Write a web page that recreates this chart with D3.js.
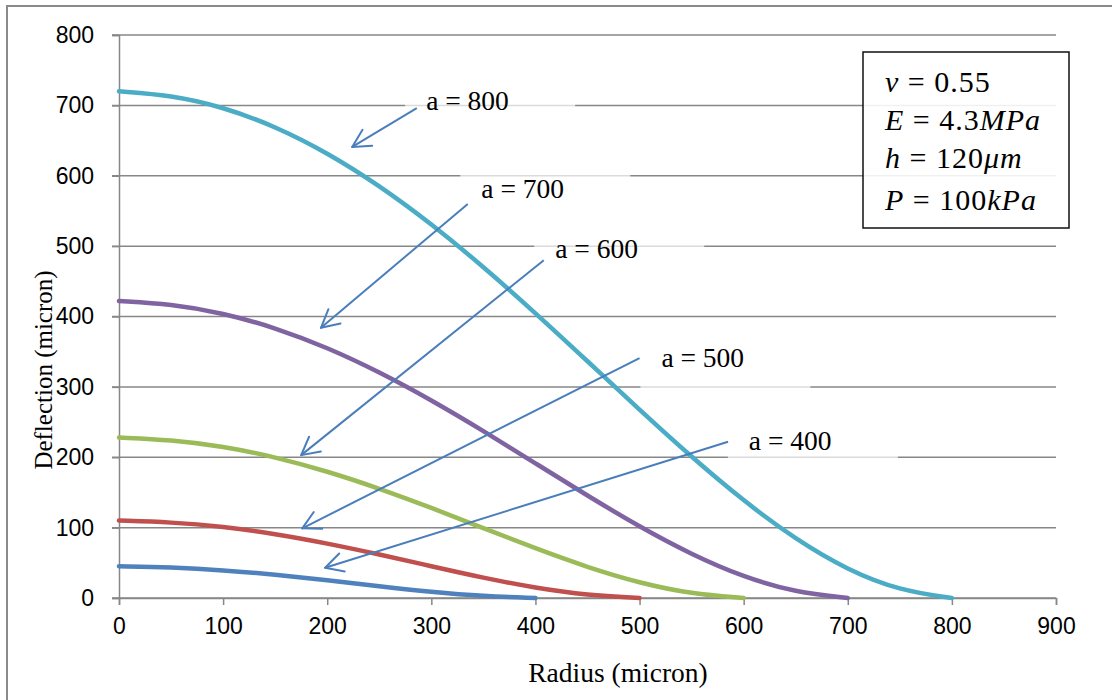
<!DOCTYPE html>
<html>
<head>
<meta charset="utf-8">
<script src="https://cdn.jsdelivr.net/npm/d3@7"></script>
<style>
  html, body { margin: 0; padding: 0; background: #fff; }
  svg { display: block; }
</style>
</head>
<body>
<svg id="chart" width="1112" height="700"></svg>
<script>
// ---------- data ----------
const radius = [0, 50, 100, 150, 200, 250, 300, 350, 400, 450, 500, 550, 600, 650, 700, 750, 800];
const seriesNames = ["a = 400", "a = 500", "a = 600", "a = 700", "a = 800"];
const defl400 = [45, 43.6, 39.6, 33.2, 25.3, 16.7, 8.6, 2.5, 0];
const defl500 = [110, 107.8, 101.4, 91.1, 77.6, 61.9, 45.1, 28.6, 14.3, 4.0, 0];
const defl600 = [228, 224.8, 215.5, 200.4, 180.1, 155.7, 128.3, 99.2, 70.4, 43.6, 21.3, 5.8, 0];
const defl700 = [422, 417.7, 405.0, 384.1, 355.9, 321.2, 281.2, 237.4, 191.4, 145.3, 101.2, 61.8, 29.7, 8.0, 0];
const defl800 = [720, 714.4, 697.7, 670.3, 632.8, 586.2, 531.7, 470.8, 405.0, 336.5, 267.4, 200.2, 137.8, 83.2, 39.6, 10.6, 0];
const xTicks = [0, 100, 200, 300, 400, 500, 600, 700, 800, 900];
const yTicks = [0, 100, 200, 300, 400, 500, 600, 700, 800];
// annotation arrows (data coordinates): label anchor, arrow start, arrow tip
const annLabelX = [605, 521, 419, 348, 295];
const annLabelY = [210, 328, 483, 568, 693];
const annFromX = [585, 500, 408, 335, 286];
const annFromY = [222, 341, 480, 560, 696];
const annToX = [198, 176, 175, 194, 224];
const annToY = [43, 99, 203, 384, 641];
const paramLines = [
  [["v", true], [" = 0.55", false]],
  [["E", true], [" = 4.3", false], ["MPa", true]],
  [["h", true], [" = 120", false], ["μm", true]],
  [["P", true], [" = 100", false], ["kPa", true]]
];

// ---------- layout ----------
const colors = ["#4F81BD", "#C0504D", "#9BBB59", "#8064A2", "#4BACC6"];
const gridColor = "#878787";
const arrowColor = "#4A7EBB";
const svg = d3.select("#chart");

const x = d3.scaleLinear().domain([0, 900]).range([119, 1056]);
const y = d3.scaleLinear().domain([0, 800]).range([598, 35]);

// outer frame
svg.append("rect").attr("x", 7).attr("y", 6).attr("width", 1120).attr("height", 720)
  .attr("fill", "none").attr("stroke", "#8a8a8a").attr("stroke-width", 2);

// gridlines
svg.append("g").selectAll("line").data(yTicks).join("line")
  .attr("x1", 112).attr("x2", x(900))
  .attr("y1", d => y(d)).attr("y2", d => y(d))
  .attr("stroke", gridColor).attr("stroke-width", 1.5);

// y axis
const yAxis = svg.append("g").attr("transform", `translate(${x(0)},0)`)
  .call(d3.axisLeft(y).tickValues(yTicks).tickSize(7).tickPadding(18).tickFormat(d3.format("d")));
yAxis.select(".domain").attr("stroke", gridColor).attr("stroke-width", 1.5);
yAxis.selectAll(".tick line").attr("stroke", gridColor).attr("stroke-width", 1.5);
yAxis.selectAll("text").attr("font-family", "'Liberation Sans', Arial, sans-serif")
  .attr("font-size", 23).attr("fill", "#000");

// x axis
const xAxis = svg.append("g").attr("transform", `translate(0,${y(0)})`)
  .call(d3.axisBottom(x).tickValues(xTicks).tickSize(7).tickPadding(13).tickFormat(d3.format("d")));
xAxis.select(".domain").attr("stroke", gridColor).attr("stroke-width", 1.5);
xAxis.selectAll(".tick line").attr("stroke", gridColor).attr("stroke-width", 1.5);
xAxis.selectAll("text").attr("font-family", "'Liberation Sans', Arial, sans-serif")
  .attr("font-size", 23).attr("fill", "#000");

// axis titles
svg.append("text").attr("x", 618).attr("y", 682).attr("text-anchor", "middle")
  .attr("font-family", "'Liberation Serif', 'Times New Roman', serif").attr("font-size", 27.5)
  .text("Radius (micron)");
svg.append("text").attr("transform", "translate(52,370) rotate(-90)").attr("text-anchor", "middle")
  .attr("font-family", "'Liberation Serif', 'Times New Roman', serif").attr("font-size", 25)
  .text("Deflection (micron)");

// curves
const allDefl = [defl400, defl500, defl600, defl700, defl800];
const line = d3.line().x(d => x(d[0])).y(d => y(d[1])).curve(d3.curveBasis);
svg.append("g").selectAll("path").data(allDefl).join("path")
  .attr("d", vals => line(vals.map((v, i) => [radius[i], v])))
  .attr("fill", "none")
  .attr("stroke", (d, i) => colors[i])
  .attr("stroke-width", 4.5)
  .attr("stroke-linecap", "round");

// annotations
const ann = svg.append("g");
seriesNames.forEach((name, i) => {
  const tx = x(annLabelX[i]), ty = y(annLabelY[i]);
  ann.append("rect").attr("x", tx - 21).attr("y", ty - 27).attr("width", 170).attr("height", 48)
    .attr("fill", "#fff").attr("fill-opacity", 0.7);
});
seriesNames.forEach((name, i) => {
  const x1 = x(annFromX[i]), y1 = y(annFromY[i]);
  const x2 = x(annToX[i]), y2 = y(annToY[i]);
  ann.append("line").attr("x1", x1).attr("y1", y1).attr("x2", x2).attr("y2", y2)
    .attr("stroke", arrowColor).attr("stroke-width", 2);
  const ang = Math.atan2(y1 - y2, x1 - x2);
  const hl = 20, ha = 28 * Math.PI / 180;
  [ang - ha, ang + ha].forEach(a => {
    ann.append("line").attr("x1", x2).attr("y1", y2)
      .attr("x2", x2 + hl * Math.cos(a)).attr("y2", y2 + hl * Math.sin(a))
      .attr("stroke", arrowColor).attr("stroke-width", 2).attr("stroke-linecap", "round");
  });
  ann.append("text").attr("x", x(annLabelX[i])).attr("y", y(annLabelY[i]))
    .attr("font-family", "'Liberation Serif', 'Times New Roman', serif").attr("font-size", 27.5)
    .attr("fill", "#000").attr("xml:space", "preserve").text(name);
});

// parameter box
svg.append("rect").attr("x", 863).attr("y", 52).attr("width", 206).attr("height", 176)
  .attr("fill", "#fff").attr("fill-opacity", 0.88).attr("stroke", "#111").attr("stroke-width", 1.5);
const baselines = [92, 130, 168, 210];
paramLines.forEach((parts, i) => {
  const t = svg.append("text").attr("x", 885).attr("y", baselines[i])
    .attr("font-family", "'Liberation Serif', 'Times New Roman', serif").attr("font-size", 30)
    .attr("letter-spacing", 1)
    .attr("xml:space", "preserve").attr("fill", "#000");
  parts.forEach(p => {
    t.append("tspan").attr("font-style", p[1] ? "italic" : "normal").text(p[0]);
  });
});
</script>
</body>
</html>
